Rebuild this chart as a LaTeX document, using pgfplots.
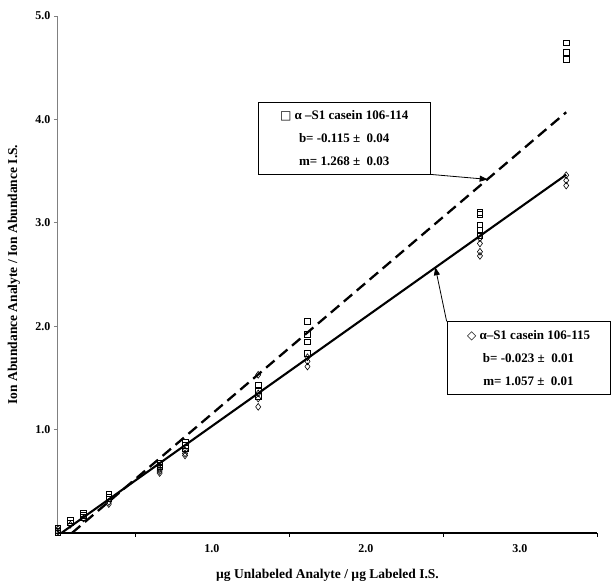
\documentclass[border=0pt]{standalone}
\usepackage{pgfplots}
\pgfplotsset{compat=1.18}
\usepackage{fontspec}
\setmainfont{Liberation Serif}
\newfontfamily\symfont{DejaVu Sans}
\usetikzlibrary{calc,arrows.meta}

\begin{document}
\begin{tikzpicture}
\begin{axis}[
  scale only axis, width=539pt, height=517pt,
  xmin=0, xmax=3.5, ymin=0, ymax=5,
  axis x line=bottom, axis y line=left,
  axis line style={-},
  x axis line style={black, line width=1.2pt},
  y axis line style={gray, line width=1pt},
  tick align=outside, major tick length=4pt,
  xtick={0.5,1.5,2.5,3.5}, xticklabels={},
  x tick style={black, line width=0.8pt},
  extra x ticks={1,2,3}, extra x tick labels={1.0,2.0,3.0},
  extra x tick style={major tick length=0pt, xticklabel style={yshift=-8pt}},
  ytick={1,2,3,4,5},
  y tick style={gray, line width=0.8pt},
  yticklabel style={/pgf/number format/.cd, fixed, fixed zerofill, precision=1},
  /pgf/number format/assume math mode=true,
  tick label style={font=\bfseries\fontsize{12}{14}\selectfont},
  xlabel={µg Unlabeled Analyte / µg Labeled I.S.},
  ylabel={Ion Abundance Analyte / Ion Abundance I.S.},
  label style={font=\bfseries\fontsize{13.5}{15}\selectfont},
  x label style={at={(axis description cs:0.5,-0.081)}, anchor=center},
  y label style={at={(axis description cs:-0.082,0.5)}, anchor=center, rotate=0},
  clip=false,
]
% regression lines
\addplot[black, line width=2.3pt, dash pattern=on 11pt off 6pt] coordinates {(0.0907,0) (3.3,4.069)};
\addplot[black, line width=2.1pt] coordinates {(0.0218,0) (3.3,3.465)};
% alpha-S1 casein 106-114
\addplot[only marks, mark=square, mark size=2.8pt, mark options={black, line width=0.6pt}] coordinates {
(0,0.02) (0,0.05) (0,0.0)
(0.08,0.12) (0.08,0.10)
(0.165,0.19) (0.165,0.17) (0.165,0.15)
(0.33,0.38) (0.33,0.35) (0.33,0.33)
(0.66,0.68) (0.66,0.66) (0.66,0.64)
(0.825,0.88) (0.825,0.85) (0.825,0.82)
(1.30,1.43) (1.30,1.38) (1.30,1.32)
(1.62,2.05) (1.62,1.92) (1.62,1.85) (1.62,1.74)
(2.74,3.10) (2.74,3.08) (2.74,2.98) (2.74,2.93) (2.74,2.88)
(3.3,4.74) (3.3,4.65) (3.3,4.58)
};
% alpha-S1 casein 106-115
\addplot[only marks, mark=diamond, mark size=3.4pt, mark options={black, line width=0.6pt}] coordinates {
(0,0.01) (0,0.04)
(0.08,0.08)
(0.165,0.14)
(0.33,0.30) (0.33,0.28)
(0.66,0.62) (0.66,0.60) (0.66,0.58)
(0.825,0.80) (0.825,0.77) (0.825,0.75)
(1.30,1.53) (1.30,1.35) (1.30,1.30) (1.30,1.22)
(1.62,1.70) (1.62,1.66) (1.62,1.61)
(2.74,2.85) (2.74,2.80) (2.74,2.72) (2.74,2.68)
(3.3,3.46) (3.3,3.41) (3.3,3.36)
};
\coordinate (O) at (rel axis cs:0,0);
\node[draw, line width=0.8pt, fill=white, minimum width=172pt, minimum height=72pt,
  align=center, font=\bfseries\fontsize{13}{23}\selectfont] (box1) at (rel axis cs:0.531,0.764)
  {{\symfont\fontsize{12}{13}\selectfont □} α –S1 casein 106-114\\ b= -0.115 ±\ \ 0.04\\ m= 1.268 ±\ \ 0.03};
\node[draw, line width=0.8pt, fill=white, minimum width=163pt, minimum height=73pt,
  align=center, font=\bfseries\fontsize{13}{23}\selectfont] (box2) at (rel axis cs:0.873,0.338)
  {{\symfont\fontsize{12}{13}\selectfont ◇} α–S1 casein 106-115\\ b= -0.023 ±\ \ 0.01\\ m= 1.057 ±\ \ 0.01};
\draw[-{Triangle[length=8pt,width=6pt]}, line width=0.8pt] (box1.south east) -- (axis cs:2.79,3.42);
\draw[-{Triangle[length=8pt,width=6pt]}, line width=0.8pt] (box2.north west) -- (axis cs:2.45,2.57);
\end{axis}
\pgfresetboundingbox
\path[use as bounding box] ($(O)+(-58pt,-53pt)$) rectangle ($(O)+(556pt,533pt)$);
\end{tikzpicture}
\end{document}
